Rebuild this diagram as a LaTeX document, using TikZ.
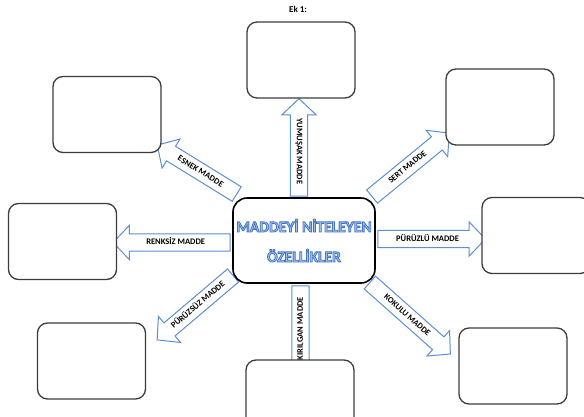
\documentclass[tikz,border=0pt]{standalone}
\usepackage{fontspec}
\setmainfont{Carlito}
\usetikzlibrary{shapes.arrows,calc,backgrounds}
\definecolor{ArrowBlue}{RGB}{91,143,209}
\definecolor{BoxGray}{RGB}{60,60,60}
\definecolor{TitleBlue}{RGB}{165,200,236}
% outlined letters for the title
\newcommand\glow[1]{\special{pdf:code q 2 Tr 0.8 w 0.27 0.45 0.77 RG}#1\special{pdf:code Q}}
% block arrow from tail to tip: name, tail, tip, flip, label
\newcommand\link[5]{%
    \path let \p1=($(#3)-(#2)$), \n1={veclen(\x1,\y1)}, \n2={atan2(\y1,\x1)} in
        node[blockarr, minimum height=\n1, rotate=\n2+#4, shape border rotate=#4]
            (#1) at ($(#2)!0.5!(#3)$) {#5};}
\tikzset{box/.style ={
        rectangle,
        draw=BoxGray,
        line width=1.3pt,
        fill=white,
        rounded corners=10pt,
        minimum width=108pt,
        minimum height=76pt
    },
    core/.style ={
        rectangle,
        draw=black,
        line width=1.6pt,
        fill=white,
        rounded corners=14pt,
        minimum width=142pt,
        minimum height=85pt,
        inner xsep=1pt,
        align=center,
        text=TitleBlue,
        font=\bfseries\fontsize{15.5}{30}\selectfont
    },
    blockarr/.style ={
        single arrow,
        draw=ArrowBlue,
        line width=1pt,
        fill=white,
        font=\bfseries\fontsize{8.5}{9}\selectfont,
        text height=5.5pt,
        text depth=1pt,
        inner ysep=4.8pt,
        inner xsep=0pt,
        single arrow head extend=8.5pt,
        single arrow tip angle=93
    }}
\begin{document}
\begin{tikzpicture}
    [
    x=1pt, y=-1pt,
    heading/.style ={
        font=\bfseries\fontsize{9}{10}\selectfont
    }
    ]
    \useasboundingbox (0,0) rectangle (584,417);
    \node (ek)[heading] at (298,9) {Ek 1:};

    \node (center)[core] at (304,240.5) {\glow{MADDEYİ NİTELEYEN\\ÖZELLİKLER}};
    \node (top)[box] at (301,60) {};
    \node (topleft)[box] at (107,114.5) {};
    \node (topright)[box] at (500,107) {};
    \node (left)[box] at (62.5,241.5) {};
    \node (right)[box] at (536,235.5) {};
    \node (botleft)[box] at (91.5,361) {};
    \node (botright)[box] at (513,366) {};
    \node (bottom)[box] at (300,398) {};

    \begin{scope}[on background layer]
    \link{yumusak}{$(center.north)+(-5,3)$}{$(top.south)+(-2,4)$}{180}{YUMUŞAK MADDE}
    \link{sert}{$(center.north east)+(-7,2)$}{$(topright.south west)+(1,-10)$}{0}{SERT MADDE}
    \link{puruzlu}{$(center.east)+(-2,-1.5)$}{$(right.west)+(0,3.5)$}{0}{PÜRÜZLÜ MADDE}
    \link{kokulu}{$(center.south east)+(-9,-4)$}{$(botright.north west)+(-11,24)$}{0}{KOKULU MADDE}
    \link{kirilgan}{$(center.south)+(-3.5,-2)$}{$(bottom.north)+(0.5,16)$}{180}{KIRILGAN MADDE}
    \link{puruzsuz}{$(center.south west)+(4,-11)$}{$(botleft.north east)+(14,15)$}{180}{PÜRÜZSÜZ MADDE}
    \link{renksiz}{$(center.west)+(2,2)$}{$(left.east)+(0,1)$}{180}{RENKSİZ MADDE}
    \link{esnek}{$(center.north west)+(8,-1)$}{$(topleft.south east)+(-1,-6)$}{180}{ESNEK MADDE}
    \end{scope}

\end{tikzpicture}
\end{document}
